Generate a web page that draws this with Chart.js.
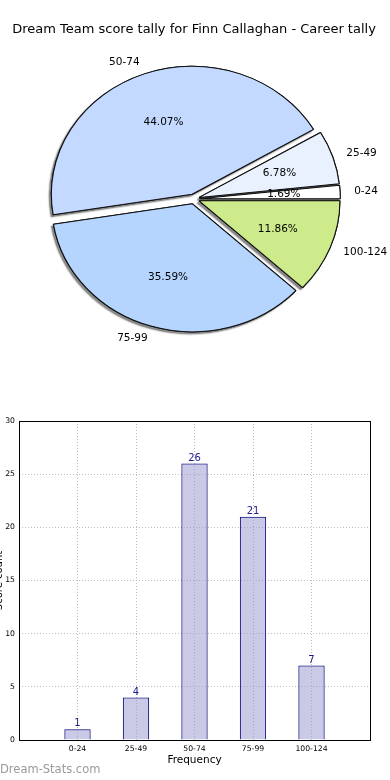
<!DOCTYPE html>
<html>
<head>
<meta charset="utf-8">
<script src="https://cdn.jsdelivr.net/npm/chart.js@4.4.0/dist/chart.umd.min.js"></script>
<style>
  html, body { margin: 0; padding: 0; background: #fff; }
  body { width: 390px; height: 780px; position: relative; overflow: hidden; font-family: "DejaVu Sans", sans-serif; }
  #pieWrap { position: absolute; left: 0; top: 0; width: 390px; height: 400px; }
  #barWrap { position: absolute; left: 0; top: 400px; width: 390px; height: 370px; }
  .credit { position: absolute; left: 0; top: 762px; font-size: 11.5px; color: #9a9a9a; }
</style>
</head>
<body>
<div id="pieWrap"><canvas id="pie"></canvas></div>
<div id="barWrap"><canvas id="bar"></canvas></div>
<div class="credit">Dream-Stats.com</div>
<script>
const categories = ['0-24', '25-49', '50-74', '75-99', '100-124'];
const counts = [1, 4, 26, 21, 7];
const sliceColors = ['#ffffff', '#e9f0fe', '#c3d9ff', '#b5d5ff', '#cdeb8b'];
const titleText = 'Dream Team score tally for Finn Callaghan - Career tally';

const FONT = '"DejaVu Sans", sans-serif';
const total = counts.reduce((a, b) => a + b, 0);

// matplotlib goes counter-clockwise from 3 o'clock, chart.js clockwise -> reverse
const pieLabels = categories.slice().reverse();
const pieValues = counts.slice().reverse();
const pieColors = sliceColors.slice().reverse();

const SX = 1.1;      // axes were not square, so the pie is a bit wider than tall
const EXPLODE = 5;

const mplPie = {
  id: 'mplPie',
  beforeDatasetsDraw(chart) {
    const ctx = chart.ctx;
    const arcs = chart.getDatasetMeta(0).data;
    const pass = (shadow) => {
      arcs.forEach(arc => {
        const mid = (arc.startAngle + arc.endAngle) / 2;
        ctx.save();
        if (shadow) {
          ctx.shadowColor = 'rgba(0,0,0,0.45)';
          ctx.shadowOffsetX = -2;
          ctx.shadowOffsetY = 2;
          ctx.shadowBlur = 1.5;
        }
        ctx.translate(arc.x + SX * EXPLODE * Math.cos(mid), arc.y + EXPLODE * Math.sin(mid));
        ctx.scale(SX, 1);
        ctx.translate(-arc.x, -arc.y);
        arc.draw(ctx);
        ctx.restore();
      });
    };
    pass(true);
    pass(false);
    return false;
  },
  afterDraw(chart) {
    const ctx = chart.ctx;
    const arcs = chart.getDatasetMeta(0).data;
    ctx.save();
    ctx.fillStyle = '#000';
    ctx.textBaseline = 'middle';
    ctx.font = '10.5px ' + FONT;
    arcs.forEach((arc, i) => {
      const mid = (arc.startAngle + arc.endAngle) / 2;
      const c = Math.cos(mid), s = Math.sin(mid);
      const at = f => [arc.x + SX * (f * arc.outerRadius + EXPLODE) * c,
                       arc.y + (f * arc.outerRadius + EXPLODE) * s];
      const pct = (pieValues[i] / total * 100).toFixed(2) + '%';
      let p = at(0.6);
      ctx.textAlign = 'center';
      ctx.fillText(pct, p[0], p[1]);
      p = at(1.1);
      ctx.textAlign = c >= 0 ? 'left' : 'right';
      ctx.fillText(pieLabels[i], p[0], p[1]);
    });
    ctx.restore();
  }
};

new Chart(document.getElementById('pie'), {
  type: 'pie',
  data: {
    labels: pieLabels,
    datasets: [{
      data: pieValues,
      backgroundColor: pieColors,
      borderColor: '#111',
      borderWidth: 1,
      radius: 128,
      rotation: 90
    }]
  },
  options: {
    responsive: true,
    maintainAspectRatio: false,
    animation: false,
    rotation: 90,
    layout: { padding: { left: 0, right: 2, top: 0, bottom: 39.6 } },
    plugins: {
      legend: { display: false },
      tooltip: { enabled: false },
      title: {
        display: true,
        text: titleText,
        color: '#000',
        font: { family: FONT, size: 13, weight: 'normal' },
        padding: { top: 22, bottom: 0 }
      }
    }
  },
  plugins: [mplPie]
});

// ---- bar chart ----
const frame = {
  id: 'frame',
  afterDatasetsDraw(chart) {
    const { ctx, chartArea: a } = chart;
    const bars = chart.getDatasetMeta(0).data;
    ctx.save();
    // value labels
    ctx.fillStyle = '#1c1c8a';
    ctx.font = '10px ' + FONT;
    ctx.textAlign = 'center';
    ctx.textBaseline = 'bottom';
    bars.forEach((bar, i) => ctx.fillText(String(counts[i]), bar.x, bar.y - 0.5));
    // black box around the axes
    ctx.strokeStyle = '#000';
    ctx.lineWidth = 1;
    ctx.strokeRect(Math.round(a.left) + 0.5, Math.round(a.top) + 0.5,
                   Math.round(a.right - a.left), Math.round(a.bottom - a.top));
    ctx.restore();
  },
  afterDraw(chart) {
    const { ctx, chartArea: a } = chart;
    ctx.save();
    ctx.translate(1.5, (a.top + a.bottom) / 2);
    ctx.rotate(-Math.PI / 2);
    ctx.fillStyle = '#000';
    ctx.font = '10px ' + FONT;
    ctx.textAlign = 'center';
    ctx.textBaseline = 'alphabetic';
    ctx.fillText('Score count', 0, 0);
    ctx.restore();
  }
};

const tickFont = { family: FONT, size: 7.7 };

new Chart(document.getElementById('bar'), {
  type: 'bar',
  data: {
    datasets: [{
      data: categories.map((c, i) => ({ x: i + 1, y: counts[i] })),
      backgroundColor: 'rgba(150,150,205,0.5)',
      borderColor: '#00007a',
      borderWidth: 1,
      categoryPercentage: 1,
      barPercentage: 0.45
    }]
  },
  options: {
    responsive: true,
    maintainAspectRatio: false,
    animation: false,
    layout: { padding: { top: 21, right: 20, left: 0, bottom: 0 } },
    plugins: { legend: { display: false }, tooltip: { enabled: false } },
    scales: {
      x: {
        type: 'linear',
        min: 0,
        max: 6,
        offset: false,
        ticks: {
          stepSize: 1,
          autoSkip: false,
          maxRotation: 0,
          padding: 4,
          color: '#000',
          font: tickFont,
          callback: v => categories[v - 1] || ''
        },
        grid: {
          offset: false,
          drawTicks: false,
          color: c => (c.tick && c.tick.value >= 1 && c.tick.value <= 5) ? '#bdbdbd' : 'rgba(0,0,0,0)'
        },
        border: { display: false, dash: [1, 2] },
        title: {
          display: true,
          text: 'Frequency',
          color: '#000',
          font: { family: FONT, size: 10.5 },
          padding: { top: 2, bottom: 3 }
        },
        afterFit: s => { s.height = 30; }
      },
      y: {
        min: 0,
        max: 30,
        ticks: { stepSize: 5, padding: 4, color: '#000', font: tickFont },
        grid: {
          drawTicks: false,
          color: c => (c.tick && c.tick.value > 0 && c.tick.value < 30) ? '#bdbdbd' : 'rgba(0,0,0,0)'
        },
        border: { display: false, dash: [1, 2] },
        afterFit: s => { s.width = 19; }
      }
    }
  },
  plugins: [frame]
});
</script>
</body>
</html>
